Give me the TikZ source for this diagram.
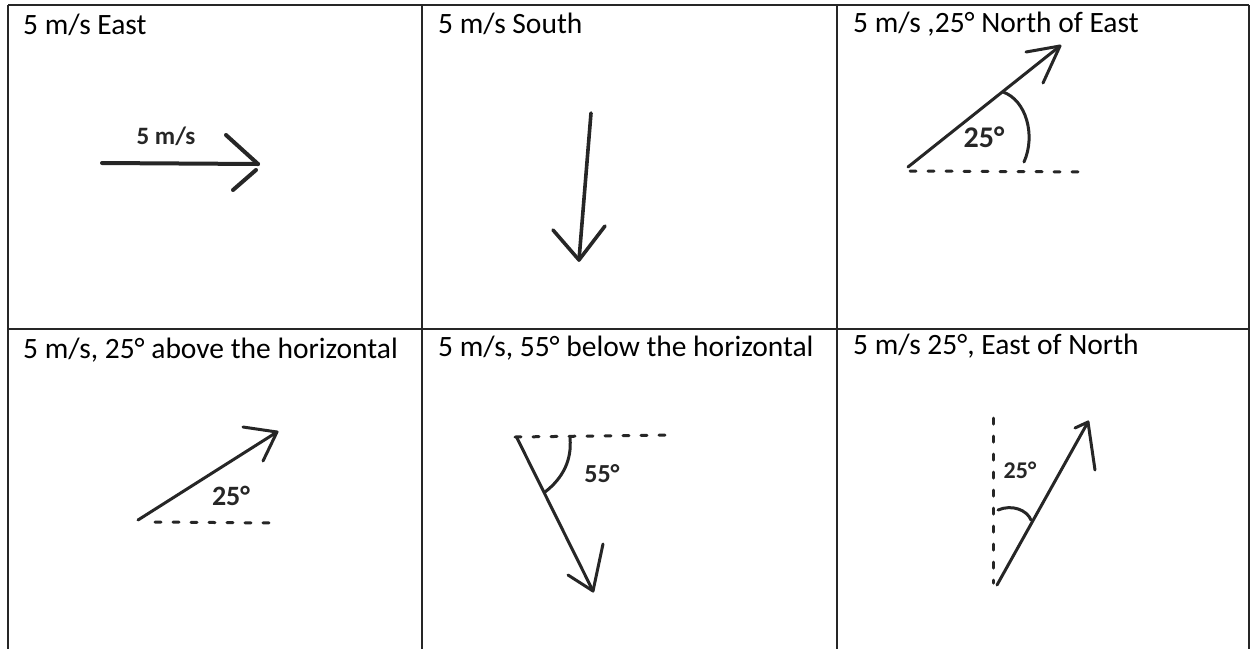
\documentclass[tikz,border=0pt]{standalone}
\usepackage{fontspec}
\setmainfont{Carlito}
\begin{document}
\begin{tikzpicture}[x=1pt,y=-1pt,
  grid/.style={draw=black!85, line width=1.8pt},
  title/.style={anchor=base west, inner sep=0pt, font=\fontsize{29.5}{34}\selectfont},
  hand/.style={inner sep=0pt, font=\fontsize{30}{34}\selectfont\bfseries, text=black!85},
  ink/.style={draw=black!85, line width=3pt, line cap=round, line join=round},
  inkthick/.style={ink, line width=4pt},
  dashink/.style={ink, line width=3pt, dash pattern=on 6pt off 12pt}]
\useasboundingbox (0,0) rectangle (1251,649);
% table
\coordinate (tl) at (8,5); \coordinate (tr) at (1249,5);
\coordinate (ml) at (8,329); \coordinate (mr) at (1249,329);
\coordinate (bl) at (8,649); \coordinate (br) at (1249,649);
\coordinate (c1t) at (422,5); \coordinate (c1b) at (422,649);
\coordinate (c2t) at (837,5); \coordinate (c2b) at (837,649);
\draw[grid] (tl) -- (tr);
\draw[grid] (ml) -- (mr);
\draw[grid] (tl) -- (bl);
\draw[grid] (tr) -- (br);
\draw[grid] (c1t) -- (c1b);
\draw[grid] (c2t) -- (c2b);
% titles
\node[title] (t1) at (23,34) {5 m/s East};
\node[title] (t2) at (438,33) {5 m/s South};
\node[title] (t3) at (853,32) {5 m/s ,25° North of East};
\node[title] (t4) at (23,358) {5 m/s, 25° above the horizontal};
\node[title] (t5) at (438,356) {5 m/s, 55° below the horizontal};
\node[title] (t6) at (853,354) {5 m/s 25°, East of North};
% cell 1
\coordinate (a1s) at (102,163); \coordinate (a1e) at (258,164);
\coordinate (a1u) at (226,135); \coordinate (a1l) at (233,190); \coordinate (a1m) at (256,170);
\draw[inkthick] (a1s) -- (a1e);
\draw[inkthick] (a1u) -- (a1e);
\draw[inkthick] (a1m) -- (a1l);
\node[hand, font=\fontsize{25}{30}\selectfont\bfseries] (l1) at (166,136) {5 m/s};
% cell 2
\coordinate (a2s) at (591,113); \coordinate (a2e) at (579,260);
\coordinate (a2l) at (553,230); \coordinate (a2r) at (605,226);
\draw[inkthick, line width=3.6pt] (a2s) -- (a2e);
\draw[inkthick, line width=3.6pt] (a2l) -- (a2e) -- (a2r);
% cell 3
\coordinate (a3s) at (908,167); \coordinate (a3e) at (1060,46);
\coordinate (a3u) at (1026,52); \coordinate (a3d) at (1043,83);
\coordinate (b3s) at (910,171); \coordinate (b3e) at (1088,172);
\coordinate (r3s) at (1003,92); \coordinate (r3e) at (1024,162);
\draw[ink] (a3s) -- (a3e);
\draw[ink] (a3u) -- (a3e) -- (a3d);
\draw[dashink] (b3s) -- (b3e);
\draw[ink] (r3s) .. controls (1026,100) and (1036,135) .. (r3e);
\node[hand] (l3) at (984,137) {25°};
% cell 4
\coordinate (a4s) at (138,520); \coordinate (a4e) at (277,432);
\coordinate (a4u) at (243,427); \coordinate (a4d) at (263,461);
\coordinate (b4s) at (155,522); \coordinate (b4e) at (275,523);
\draw[ink] (a4s) -- (a4e);
\draw[ink] (a4u) -- (a4e) -- (a4d);
\draw[dashink] (b4s) -- (b4e);
\node[hand, font=\fontsize{28}{32}\selectfont\bfseries] (l4) at (231,496) {25°};
% cell 5
\coordinate (b5s) at (515,437); \coordinate (b5e) at (670,435);
\coordinate (a5s) at (517,438); \coordinate (a5e) at (593,591);
\coordinate (a5l) at (568,575); \coordinate (a5r) at (603,544);
\coordinate (r5s) at (545,492); \coordinate (r5e) at (570,438);
\draw[dashink] (b5s) -- (b5e);
\draw[ink] (a5s) -- (a5e);
\draw[ink] (a5l) -- (a5e) -- (a5r);
\draw[ink] (r5s) .. controls (563,478) and (572,460) .. (r5e);
\node[hand, font=\fontsize{26}{30}\selectfont\bfseries] (l5) at (602,474) {55°};
% cell 6
\coordinate (b6s) at (993,418); \coordinate (b6e) at (993,583);
\coordinate (a6s) at (997,585); \coordinate (a6e) at (1088,422);
\coordinate (a6l) at (1075,428); \coordinate (a6r) at (1095,470);
\coordinate (r6s) at (998,510); \coordinate (r6e) at (1031,520);
\draw[dashink] (b6s) -- (b6e);
\draw[ink] (a6s) -- (a6e);
\draw[ink] (a6l) -- (a6e) -- (a6r);
\draw[ink] (r6s) .. controls (1012,504) and (1027,510) .. (r6e);
\node[hand, font=\fontsize{24}{28}\selectfont\bfseries] (l6) at (1020,470) {25°};
\end{tikzpicture}
\end{document}
